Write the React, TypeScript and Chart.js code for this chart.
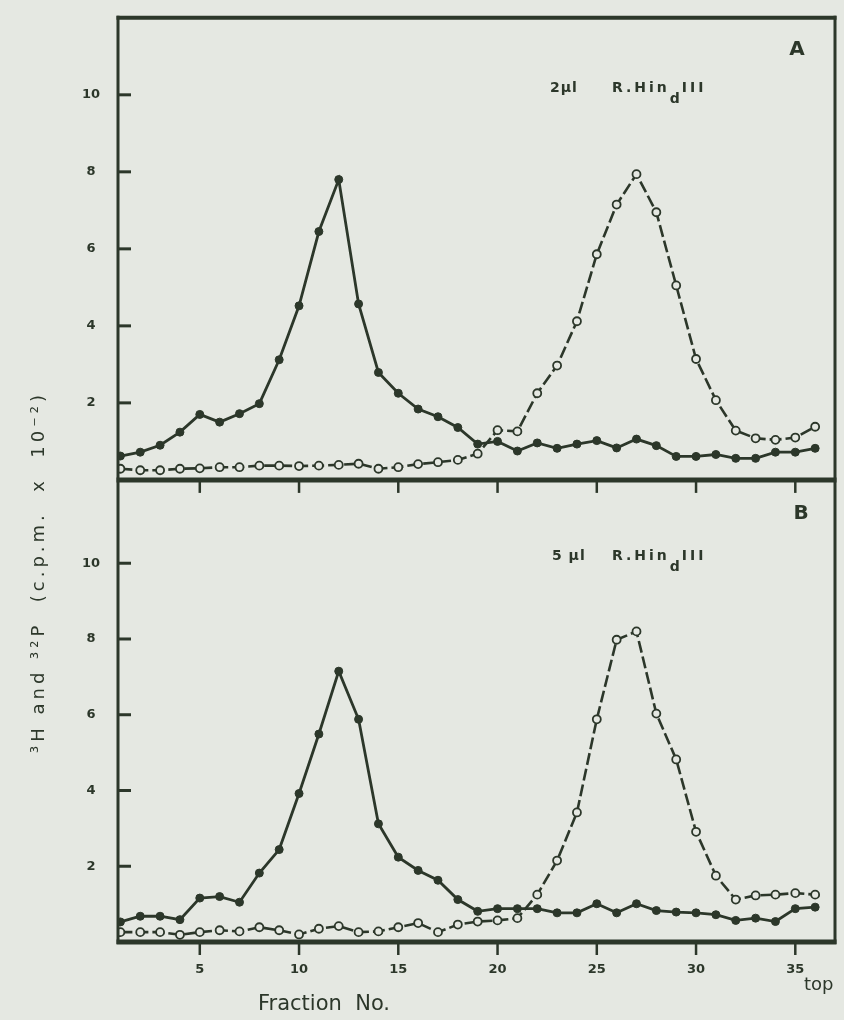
import { useEffect, useRef } from 'react';
import { Chart, registerables } from 'chart.js';

Chart.register(...registerables);

// ---- data ----
const fractions = [
  1, 2, 3, 4, 5, 6, 7, 8, 9, 10, 11, 12, 13, 14, 15, 16, 17, 18,
  19, 20, 21, 22, 23, 24, 25, 26, 27, 28, 29, 30, 31, 32, 33, 34, 35, 36,
];

// Panel A (2 µl R.HindIII)
const panelASolid = [
  0.62, 0.72, 0.9, 1.24, 1.7, 1.5, 1.72, 1.98, 3.12, 4.52, 6.45, 7.8,
  4.57, 2.79, 2.25, 1.84, 1.64, 1.36, 0.93, 1.0, 0.75, 0.96, 0.82, 0.93,
  1.02, 0.83, 1.06, 0.89, 0.61, 0.61, 0.66, 0.56, 0.56, 0.72, 0.72, 0.82,
];
const panelAOpen = [
  0.29, 0.25, 0.25, 0.29, 0.3, 0.33, 0.33, 0.37, 0.37, 0.36, 0.37, 0.39,
  0.42, 0.29, 0.33, 0.41, 0.46, 0.52, 0.68, 1.29, 1.26, 2.25, 2.97, 4.12,
  5.86, 7.15, 7.94, 6.95, 5.05, 3.14, 2.07, 1.28, 1.08, 1.04, 1.1, 1.38,
];

// Panel B (5 µl R.HindIII)
const panelBSolid = [
  0.53, 0.68, 0.68, 0.59, 1.16, 1.2, 1.05, 1.82, 2.44, 3.92, 5.49, 7.15,
  5.88, 3.12, 2.24, 1.89, 1.63, 1.12, 0.81, 0.88, 0.88, 0.88, 0.77, 0.77,
  1.01, 0.77, 1.01, 0.83, 0.79, 0.77, 0.72, 0.57, 0.63, 0.54, 0.88, 0.92,
];
const panelBOpen = [
  0.26, 0.26, 0.26, 0.19, 0.26, 0.31, 0.28, 0.39, 0.31, 0.2, 0.35, 0.42,
  0.26, 0.28, 0.39, 0.5, 0.26, 0.46, 0.54, 0.57, 0.63, 1.25, 2.15, 3.42,
  5.88, 7.98, 8.2, 6.03, 4.82, 2.91, 1.75, 1.12, 1.23, 1.25, 1.29, 1.25,
];

const xTickValues = [5, 10, 15, 20, 25, 30, 35];
const yTickValues = [2, 4, 6, 8, 10];

const panelLetters = ['A', 'B'];
const panelAmounts = ['2µl', '5 µl'];
const enzymeMain = 'R.Hin';
const enzymeSub = 'd';
const enzymeTail = 'III';
const yTitle = '³H and ³²P  (c.p.m.  x  10⁻²)';
const xTitle = 'Fraction  No.';
const xEndLabel = 'top';

const INK = '#2c372a';
const BG = '#e5e8e2';
const FONT = '"DejaVu Sans", sans-serif';

const toPoints = (vals: number[]) => fractions.map((f, i) => ({ x: f, y: vals[i] }));

const solidStyle = {
  borderColor: INK,
  borderWidth: 2.8,
  pointRadius: 4,
  pointBackgroundColor: INK,
  pointBorderColor: INK,
  pointBorderWidth: 1,
  tension: 0,
};
const openStyle = {
  borderColor: INK,
  borderWidth: 2.6,
  borderDash: [12, 4],
  pointRadius: 4,
  pointBackgroundColor: BG,
  pointBorderColor: INK,
  pointBorderWidth: 1.8,
  tension: 0,
};

const framePlugin = {
  id: 'frame',
  beforeDraw(chart: any) {
    const { ctx, width, height } = chart;
    ctx.save();
    ctx.fillStyle = BG;
    ctx.fillRect(0, 0, width, height);
    ctx.restore();
  },
  afterDraw(chart: any) {
    const { ctx, chartArea: ca, scales } = chart;
    const xs = scales.x;
    const yA = scales.yA;
    const yB = scales.yB;
    const line = (x1: number, y1: number, x2: number, y2: number, w: number) => {
      ctx.lineWidth = w;
      ctx.beginPath();
      ctx.moveTo(x1, y1);
      ctx.lineTo(x2, y2);
      ctx.stroke();
    };
    ctx.save();
    ctx.strokeStyle = INK;
    ctx.lineCap = 'butt';
    // frame
    line(ca.left, ca.top - 2, ca.left, ca.bottom + 2, 3);
    line(ca.right, ca.top - 2, ca.right, ca.bottom + 2, 3);
    line(ca.left - 1.5, ca.top, ca.right + 1.5, ca.top, 4);
    const divY = yA.bottom;
    line(ca.left - 1.5, divY, ca.right + 1.5, divY, 5);
    line(ca.left - 1.5, ca.bottom, ca.right + 1.5, ca.bottom, 5);
    // y ticks (inward)
    for (const s of [yA, yB]) {
      for (const v of yTickValues) {
        const py = s.getPixelForValue(v);
        line(ca.left, py, ca.left + 13, py, 3);
      }
    }
    // x ticks
    for (const v of xTickValues) {
      const px = xs.getPixelForValue(v);
      line(px, divY, px, divY + 13, 2.5);
      line(px, ca.bottom, px, ca.bottom + 13, 2.5);
    }

    ctx.fillStyle = INK;
    ctx.textBaseline = 'alphabetic';
    // panel letters
    ctx.font = `bold 20px ${FONT}`;
    ctx.textAlign = 'center';
    ctx.fillText(panelLetters[0], 797, 55);
    ctx.fillText(panelLetters[1], 801, 519);

    // enzyme annotations
    const drawEnzyme = (amount: string, x0: number, xMain: number, base: number) => {
      ctx.textAlign = 'left';
      ctx.font = `bold 14px ${FONT}`;
      (ctx as any).letterSpacing = '1px';
      ctx.fillText(amount, x0, base);
      (ctx as any).letterSpacing = '3px';
      ctx.fillText(enzymeMain, xMain, base);
      const w = ctx.measureText(enzymeMain).width;
      (ctx as any).letterSpacing = '0px';
      ctx.fillText(enzymeSub, xMain + w, base + 11);
      (ctx as any).letterSpacing = '3px';
      ctx.fillText(enzymeTail, xMain + w + 12, base);
      (ctx as any).letterSpacing = '0px';
    };
    drawEnzyme(panelAmounts[0], 550, 612, 92);
    drawEnzyme(panelAmounts[1], 552, 612, 560);

    // y title
    ctx.save();
    ctx.translate(39, 572);
    ctx.rotate(-Math.PI / 2);
    ctx.textAlign = 'center';
    ctx.textBaseline = 'middle';
    ctx.font = `18px ${FONT}`;
    (ctx as any).letterSpacing = '4px';
    ctx.fillText(yTitle, 0, 0);
    ctx.restore();

    // x title and end label
    ctx.textAlign = 'left';
    ctx.font = `21px ${FONT}`;
    (ctx as any).letterSpacing = '0px';
    ctx.fillText(xTitle, 258, 1010);
    ctx.font = `18px ${FONT}`;
    ctx.fillText(xEndLabel, 804, 990);
    ctx.restore();
  },
};

export default function App() {
  const ref = useRef<HTMLCanvasElement | null>(null);
  useEffect(() => {
    document.body.style.margin = '0';
    document.body.style.background = BG;
    const canvas = ref.current;
    if (!canvas) return;
    const tickFont = { family: FONT, size: 13, weight: 'bold' as const };
    const yScale = (max: number, weight: number) => ({
      type: 'linear' as const,
      position: 'left' as const,
      stack: 'panels',
      stackWeight: 1,
      weight,
      min: 0,
      max,
      grid: { display: false },
      border: { display: false },
      afterBuildTicks: (s: any) => {
        s.ticks = yTickValues.map((v) => ({ value: v }));
      },
      afterFit: (s: any) => {
        s.width = 118;
      },
      ticks: {
        color: INK,
        font: tickFont,
        padding: 10,
        crossAlign: 'center' as const,
      },
    });
    const chart = new Chart(canvas, {
      type: 'line',
      data: {
        datasets: [
          { ...openStyle, data: toPoints(panelAOpen), yAxisID: 'yA' },
          { ...solidStyle, data: toPoints(panelASolid), yAxisID: 'yA' },
          { ...openStyle, data: toPoints(panelBOpen), yAxisID: 'yB' },
          { ...solidStyle, data: toPoints(panelBSolid), yAxisID: 'yB' },
        ] as any,
      },
      options: {
        animation: false,
        responsive: false,
        maintainAspectRatio: false,
        devicePixelRatio: 1,
        layout: { padding: { top: 15, right: 9, left: 0, bottom: 0 } },
        plugins: { legend: { display: false }, tooltip: { enabled: false } },
        scales: {
          x: {
            type: 'linear',
            min: 0.88,
            max: 37,
            grid: { display: false },
            border: { display: false },
            afterBuildTicks: (s: any) => {
              s.ticks = xTickValues.map((v) => ({ value: v }));
            },
            afterFit: (s: any) => {
              s.height = 78;
            },
            ticks: {
              color: INK,
              font: tickFont,
              padding: 12,
              maxRotation: 0,
              autoSkip: false,
            },
          },
          yA: yScale(12, 2),
          yB: yScale(12.2, 1),
        } as any,
      },
      plugins: [framePlugin],
    });
    return () => chart.destroy();
  }, []);
  return (
    <div style={{ position: 'absolute', left: 0, top: 0, width: 844, height: 1020 }}>
      <canvas ref={ref} width={844} height={1020} style={{ display: 'block', width: 844, height: 1020 }} />
    </div>
  );
}
